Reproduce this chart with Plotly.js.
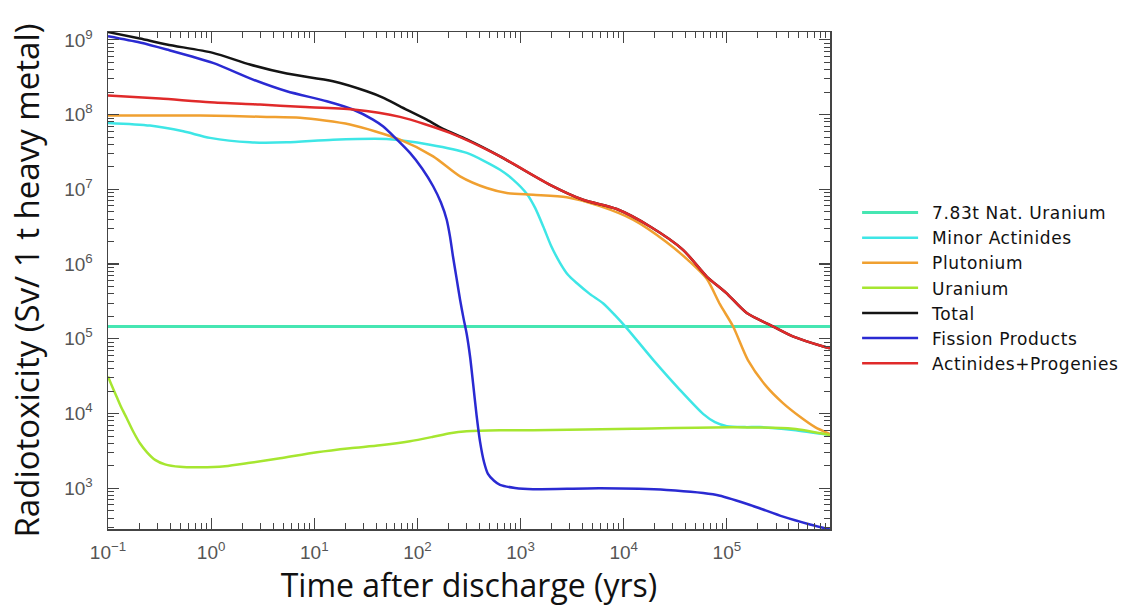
<!DOCTYPE html>
<html>
<head>
<meta charset="utf-8">
<script src="https://cdn.plot.ly/plotly-3.0.1.min.js"></script>
<style>
html,body{margin:0;padding:0;background:#fff;}
#chart{width:1126px;height:614px;}
#chart .legendtext{letter-spacing:0.6px;}
</style>
</head>
<body>
<div id="chart"></div>
<script>
// ---- Data (time in years, radiotoxicity in Sv per tonne heavy metal) ----
const seriesNames = ["7.83t Nat. Uranium","Minor Actinides","Plutonium","Uranium","Total","Fission Products","Actinides+Progenies"];

const natUT = [0.1, 1e6];
const natUV = [1.46e5, 1.46e5];

const minorT = [0.1, 0.255, 0.537, 0.975, 2.38, 5.41, 15.2, 50.4, 132, 301, 632, 845, 1148, 1380, 1663, 1975, 2410, 2880, 3500, 4710, 6340, 8220, 10690, 19400, 35200, 59200, 76700, 99800, 1.5e5, 2.1e5, 4.42e5, 1e6];
const minorV = [7.74e7, 7.13e7, 5.97e7, 4.88e7, 4.26e7, 4.26e7, 4.62e7, 4.72e7, 3.96e7, 3.07e7, 1.83e7, 1.35e7, 8.73e6, 5.68e6, 3.16e6, 1.76e6, 1.04e6, 7.19e5, 5.57e5, 3.96e5, 2.97e5, 2.07e5, 1.39e5, 5.18e4, 2.06e4, 9.82e3, 7.67e3, 6.78e3, 6.58e3, 6.58e3, 6.00e3, 5.14e3];

const plutT = [0.1, 0.78, 3.46, 7.28, 22.2, 67.8, 142, 259, 470, 735, 1321, 2800, 5890, 12300, 25700, 43900, 63800, 85900, 1.15e5, 1.6e5, 2.43e5, 3.5e5, 5.12e5, 7.16e5, 1e6];
const plutV = [9.71e7, 9.71e7, 9.31e7, 9.04e7, 7.35e7, 4.62e7, 2.76e7, 1.49e7, 1.04e7, 8.93e6, 8.47e6, 7.85e6, 5.96e6, 3.93e6, 1.99e6, 1.07e6, 6.35e5, 2.88e5, 1.46e5, 5.20e4, 2.29e4, 1.38e4, 9.06e3, 6.59e3, 5.31e3];

const uranT = [0.1, 0.109, 0.121, 0.134, 0.152, 0.175, 0.204, 0.239, 0.286, 0.357, 0.499, 0.78, 1.36, 2.38, 4.66, 10.6, 22.2, 43.4, 84.7, 142, 207, 301, 632, 1321, 12300, 1.15e5, 4.38e5, 1e6];
const uranV = [3.13e4, 2.35e4, 1.69e4, 1.22e4, 8.65e3, 5.79e3, 4.00e3, 3.03e3, 2.40e3, 2.09e3, 1.94e3, 1.91e3, 1.97e3, 2.19e3, 2.52e3, 3.03e3, 3.43e3, 3.76e3, 4.26e3, 4.89e3, 5.45e3, 5.79e3, 5.97e3, 5.97e3, 6.25e3, 6.56e3, 6.25e3, 5.14e3];

const totalT = [0.1, 0.204, 0.371, 1.04, 2.38, 5.41, 15.2, 32.2, 46.3, 67.8, 123, 177, 301, 632, 1930, 4030, 8550, 18000, 37600, 63800, 98400, 1.56e5, 2.82e5, 4.42e5, 8.61e5, 1e6];
const totalV = [1.27e9, 1.04e9, 8.67e8, 6.70e8, 4.68e8, 3.54e8, 2.79e8, 2.05e8, 1.69e8, 1.29e8, 8.57e7, 6.43e7, 4.65e7, 2.76e7, 1.15e7, 7.26e6, 5.45e6, 3.18e6, 1.55e6, 6.81e5, 4.12e5, 2.21e5, 1.46e5, 1.07e5, 7.89e4, 7.46e4];

const fissT = [0.1, 0.204, 0.371, 1.04, 2.55, 5.41, 13.2, 23.7, 37.1, 46.3, 60.6, 84.7, 111, 142, 169, 192, 207, 221, 239, 259, 279, 301, 324, 346, 374, 405, 442, 483, 553, 632, 883, 1321, 5890, 26100, 79800, 1.68e5, 3.51e5, 6.4e5, 1e6];
const fissV = [1.12e9, 9.22e8, 7.43e8, 4.92e8, 2.94e8, 2.05e8, 1.51e8, 1.17e8, 8.57e7, 6.97e7, 4.92e7, 3.07e7, 1.90e7, 1.10e7, 6.65e6, 3.94e6, 2.33e6, 1.27e6, 6.59e5, 3.34e5, 1.92e5, 1.14e5, 5.75e4, 2.58e4, 9.62e3, 4.18e3, 2.25e3, 1.56e3, 1.26e3, 1.11e3, 1.01e3, 971, 1.00e3, 951, 815, 598, 417, 328, 281];

const actT = [0.1, 0.319, 0.975, 2.98, 7.28, 23.7, 67.8, 207, 632, 1930, 4030, 8550, 18000, 37600, 63800, 98400, 1.56e5, 2.82e5, 4.42e5, 8.61e5, 1e6];
const actV = [1.80e8, 1.64e8, 1.46e8, 1.36e8, 1.27e8, 1.17e8, 9.31e7, 5.69e7, 2.76e7, 1.15e7, 7.26e6, 5.45e6, 3.18e6, 1.55e6, 6.81e5, 4.12e5, 2.21e5, 1.46e5, 1.07e5, 7.89e4, 7.46e4];

const xTickVals = [0.1, 1, 10, 100, 1000, 1e4, 1e5];
const xTickText = ["10<sup>\u22121</sup>","10<sup>0</sup>","10<sup>1</sup>","10<sup>2</sup>","10<sup>3</sup>","10<sup>4</sup>","10<sup>5</sup>"];
const yTickVals = [1e3, 1e4, 1e5, 1e6, 1e7, 1e8, 1e9];
const yTickText = ["10<sup>3</sup>","10<sup>4</sup>","10<sup>5</sup>","10<sup>6</sup>","10<sup>7</sup>","10<sup>8</sup>","10<sup>9</sup>"];

const colors = ["#46e6b2","#3ee6e6","#f0a030","#a6e630","#141414","#2a2ad2","#e02a2a"];

// minor tick positions (2..9 x 10^k)
function minorTicks(lo, hi) {
  const out = [];
  for (let k = lo; k <= hi; k++) for (let m = 2; m <= 9; m++) out.push(m * Math.pow(10, k));
  return out;
}

const xs = [natUT, minorT, plutT, uranT, totalT, fissT, actT];
const ys = [natUV, minorV, plutV, uranV, totalV, fissV, actV];

const traces = seriesNames.map((n, i) => ({
  x: xs[i], y: ys[i], name: n, type: 'scatter', mode: 'lines',
  line: {color: colors[i], width: i === 0 ? 3 : 2.5, shape: i === 0 ? 'linear' : 'spline', smoothing: 0.7}
}));

const axisCommon = {
  type: 'log', showgrid: false, zeroline: false,
  showline: true, linecolor: '#444', linewidth: 1.5, mirror: 'allticks',
  ticks: 'inside', ticklen: 11, tickwidth: 1.2, tickcolor: '#444',
  tickfont: {family: 'Liberation Sans, Arial, sans-serif', size: 19, color: '#555'}
};

const layout = {
  width: 1126, height: 614, autosize: false,
  paper_bgcolor: '#fff', plot_bgcolor: '#fff',
  margin: {l: 108, r: 296, t: 32, b: 85},
  showlegend: true,
  legend: {
    x: 1.05, y: 0.672, xanchor: 'left', yanchor: 'top',
    font: {family: 'DejaVu Sans, sans-serif', size: 17, color: '#111'},
    bgcolor: 'rgba(0,0,0,0)', itemwidth: 56, tracegroupgap: 0
  },
  xaxis: Object.assign({}, axisCommon, {
    range: [-1, 6], tickmode: 'array', tickvals: xTickVals, ticktext: xTickText,
    ticklabelstandoff: 6,
    minor: {tickmode: 'array', tickvals: minorTicks(-1, 5), ticks: 'inside', ticklen: 6, tickwidth: 1, tickcolor: '#444', showgrid: false},
    title: {text: 'Time after discharge (yrs)', font: {family: 'Open Sans, sans-serif', size: 32, color: '#111'}, standoff: 4}
  }),
  yaxis: Object.assign({}, axisCommon, {
    range: [2.455, 9.105], tickmode: 'array', tickvals: yTickVals, ticktext: yTickText,
    ticklabelstandoff: 10,
    minor: {tickmode: 'array', tickvals: minorTicks(2, 9), ticks: 'inside', ticklen: 6, tickwidth: 1, tickcolor: '#444', showgrid: false},
    title: {text: 'Radiotoxicity (Sv/ 1 t heavy metal)', font: {family: 'Open Sans, sans-serif', size: 33, color: '#111'}, standoff: 14}
  })
};

Plotly.newPlot('chart', traces, layout, {displayModeBar: false, staticPlot: true}).then(function () {
  // longer legend line samples, as in the original figure
  document.querySelectorAll('#chart .legendlines path').forEach(function (p) {
    p.setAttribute('d', 'M-4,0h56');
  });
  // let the (letter-spaced) legend texts show in full
  document.querySelectorAll('#chart .legend [clip-path]').forEach(function (el) {
    el.removeAttribute('clip-path');
  });
});
</script>
</body>
</html>
